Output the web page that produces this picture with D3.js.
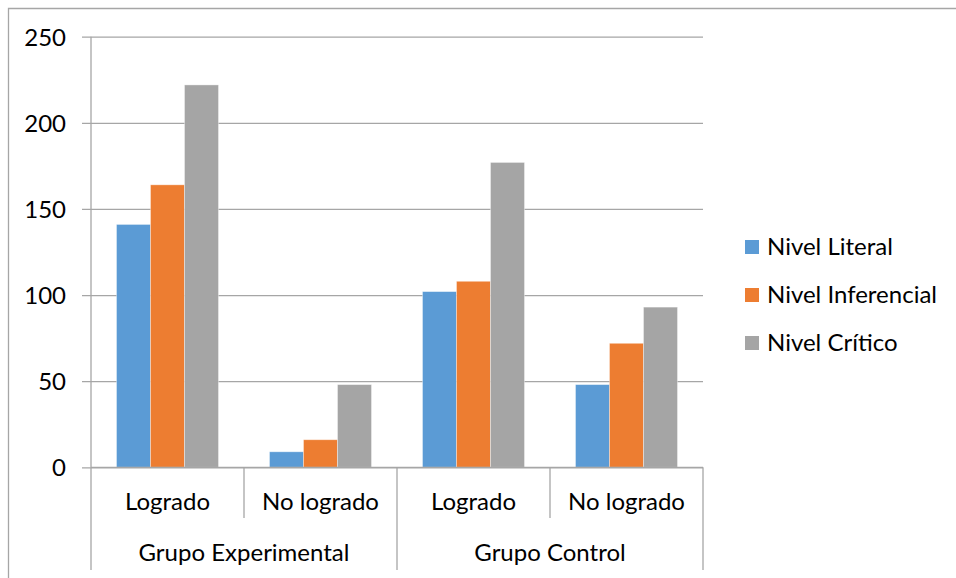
<!DOCTYPE html>
<html>
<head>
<meta charset="utf-8">
<script src="https://cdn.jsdelivr.net/npm/d3@7"></script>
<style>
  html, body { margin: 0; padding: 0; background: #fff; }
  svg { display: block; }
  text { font-family: Lato, "Open Sans", sans-serif; fill: #000; }
</style>
</head>
<body>
<svg id="chart" width="956" height="578"></svg>
<script>
// Reading-comprehension results by group and outcome
const groups = ["Grupo Experimental", "Grupo Control"];
const outcomes = ["Logrado", "No logrado"];
const series = ["Nivel Literal", "Nivel Inferencial", "Nivel Crítico"];
const colors = ["#5b9bd5", "#ed7d31", "#a5a5a5"];
const nivelLiteral     = [141, 9, 102, 48];
const nivelInferencial = [164, 16, 108, 72];
const nivelCritico     = [222, 48, 177, 93];
const yTicks = [0, 50, 100, 150, 200, 250];

const values = [nivelLiteral, nivelInferencial, nivelCritico];
const categories = [];
groups.forEach((g, gi) => outcomes.forEach((o, oi) => categories.push({ key: gi + "-" + oi, group: g, label: o })));

const svg = d3.select("#chart");
const plot = { left: 91, right: 703, top: 36.7, bottom: 467.3 };
const gridColor = "#a6a6a6";
const fontSize = 24;

// Outer chart frame (top and left edges)
svg.append("path")
  .attr("d", "M8.5,578 V8.5 H956")
  .attr("fill", "none").attr("stroke", gridColor).attr("stroke-width", 1.3);

const x = d3.scaleBand().domain(categories.map(c => c.key)).range([plot.left, plot.right]).paddingInner(0).paddingOuter(0);
const xSub = d3.scaleBand().domain(series).range([0, x.bandwidth()]).paddingInner(0).paddingOuter(0.75);
const y = d3.scaleLinear().domain([0, 250]).range([plot.bottom, plot.top]);

// Horizontal gridlines with small left tick stubs
const yAxis = d3.axisLeft(y).tickValues(yTicks).tickSize(-(plot.right - plot.left)).tickPadding(16).tickFormat(d3.format("d"));
const gy = svg.append("g").attr("transform", `translate(${plot.left},0)`).call(yAxis);
gy.select(".domain").remove();
gy.selectAll(".tick line").attr("stroke", gridColor).attr("stroke-width", 1.3).attr("x1", -9);
gy.selectAll(".tick text").attr("font-size", fontSize).attr("x", -25).attr("fill", "#000").attr("dy", "0.36em")
  .style("font-family", "Lato, 'Open Sans', sans-serif");

// Bars
series.forEach((s, si) => {
  svg.append("g").selectAll("rect")
    .data(categories)
    .join("rect")
    .attr("x", c => x(c.key) + xSub(s))
    .attr("width", xSub.bandwidth())
    .attr("y", (c, i) => y(values[si][i]))
    .attr("height", (c, i) => y(0) - y(values[si][i]))
    .attr("fill", colors[si])
    .attr("stroke", "rgba(255,255,255,0.45)")
    .attr("stroke-width", 0.8);
});

// Vertical value axis line
svg.append("line")
  .attr("x1", plot.left).attr("x2", plot.left)
  .attr("y1", plot.top).attr("y2", plot.bottom)
  .attr("stroke", gridColor).attr("stroke-width", 1.3);

// Multi-level category axis
const gx = svg.append("g");
gx.append("line")
  .attr("x1", plot.left).attr("x2", plot.right)
  .attr("y1", plot.bottom).attr("y2", plot.bottom)
  .attr("stroke", gridColor).attr("stroke-width", 1.3);

const boundaries = categories.map(c => x(c.key)).concat([plot.right]);
boundaries.forEach((bx, i) => {
  const outer = i % outcomes.length === 0;
  gx.append("line")
    .attr("x1", bx).attr("x2", bx)
    .attr("y1", plot.bottom).attr("y2", outer ? 570 : 518)
    .attr("stroke", gridColor).attr("stroke-width", 1.3);
});

gx.selectAll("text.cat")
  .data(categories)
  .join("text")
  .attr("class", "cat")
  .attr("x", c => x(c.key) + x.bandwidth() / 2)
  .attr("y", 510)
  .attr("text-anchor", "middle")
  .attr("font-size", fontSize)
  .text(c => c.label);

gx.selectAll("text.grp")
  .data(groups)
  .join("text")
  .attr("class", "grp")
  .attr("x", (g, gi) => x(gi + "-0") + x.bandwidth() * outcomes.length / 2)
  .attr("y", 561)
  .attr("text-anchor", "middle")
  .attr("font-size", fontSize)
  .text(g => g);

// Legend
const legend = svg.append("g").selectAll("g")
  .data(series)
  .join("g")
  .attr("transform", (s, i) => `translate(745,${247 + i * 48})`);
legend.append("rect")
  .attr("x", 0).attr("y", -7).attr("width", 14).attr("height", 14)
  .attr("fill", (s, i) => colors[i]);
legend.append("text")
  .attr("x", 22).attr("y", 8)
  .attr("font-size", fontSize)
  .text(s => s);
</script>
</body>
</html>
